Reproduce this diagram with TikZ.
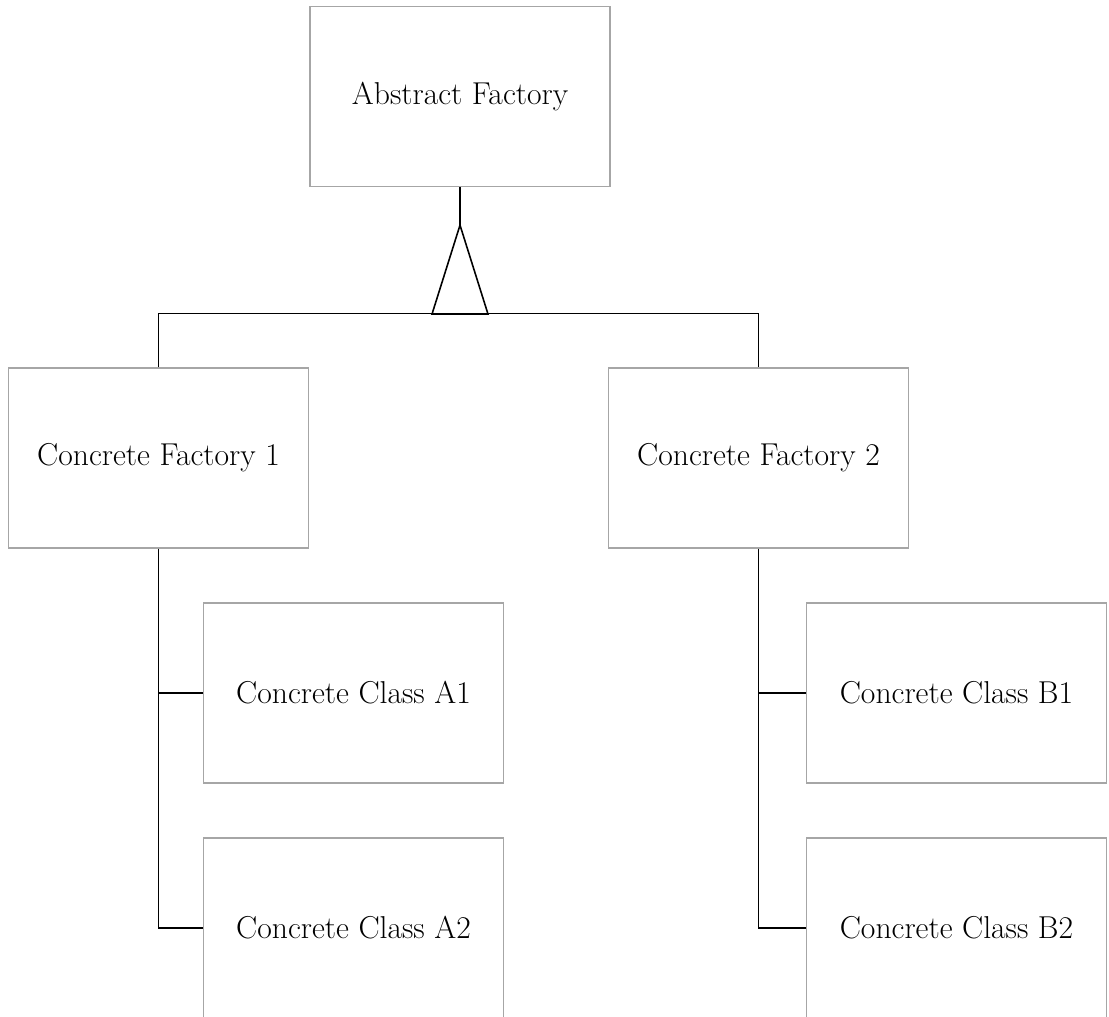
\documentclass[tikz,border=0pt]{standalone}
\usetikzlibrary{calc}
\begin{document}
\begin{tikzpicture}[
		caja/.style={draw=gray!70, line width=0.7pt, minimum width=6cm, minimum height=3.6cm, font=\fontsize{18}{21}\selectfont},
		enlace/.style={black, line width=0.9pt}
	]
			% Marco
				\useasboundingbox (0,0) rectangle (22.18,-20.32);
			
			% Cajas
				\node[caja] (abstracta) at (9.2,-1.93) {Abstract Factory};
				\node[caja] (fabrica1) at (3.17,-9.16) {Concrete Factory 1};
				\node[caja] (fabrica2) at (15.17,-9.16) {Concrete Factory 2};
				
				\node[caja] (claseA1) at (7.07,-13.86) {Concrete Class A1};
				\node[caja] (claseA2) at (7.07,-18.56) {Concrete Class A2};
				\node[caja] (claseB1) at (19.13,-13.86) {Concrete Class B1};
				\node[caja] (claseB2) at (19.13,-18.56) {Concrete Class B2};
			
			% Herencia
				\draw[enlace] (abstracta.south) -- ++(0,-0.76) coordinate (punta);
				\draw[enlace] (punta) -- ++(-0.56,-1.78) -- ++(1.12,0) -- cycle;
				\draw[enlace] (fabrica1.north) -- ++(0,1.08) -| (fabrica2.north);
			
			% Productos
				\draw[enlace] (fabrica1.south) |- (claseA2.west);
				\draw[enlace] (claseA1.west) -- (claseA1.west -| fabrica1.south);
				
				\draw[enlace] (fabrica2.south) |- (claseB2.west);
				\draw[enlace] (claseB1.west) -- (claseB1.west -| fabrica2.south);
		\end{tikzpicture}
\end{document}
